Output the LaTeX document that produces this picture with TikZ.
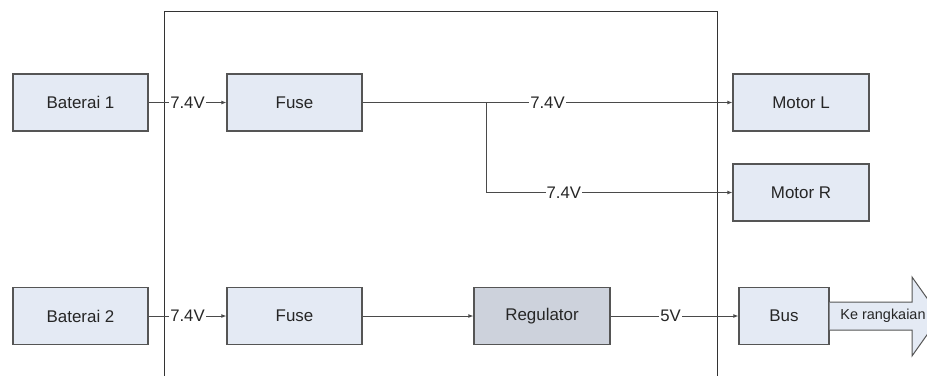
\documentclass[tikz,border=0pt]{standalone}
\usepackage{fontspec}
\setmainfont{Liberation Sans}
\usetikzlibrary{arrows.meta}
\definecolor{boxfill}{HTML}{E4EAF4}
\definecolor{regfill}{HTML}{CDD2DC}
\definecolor{edgec}{HTML}{555555}
\definecolor{wirec}{HTML}{4A4A4A}
\begin{document}
\begin{tikzpicture}[x=1bp,y=-1bp,
  blk/.style={draw=edgec, line width=1.3bp, fill=boxfill, minimum width=135bp, minimum height=57bp, inner sep=0pt, font=\fontsize{17}{20}\selectfont, text=black!85},
  wire/.style={draw=wirec, line width=0.9bp, -{Latex[length=5bp,width=4bp]}},
  lbl/.style={fill=white, inner sep=1bp, font=\fontsize{16.8}{19}\selectfont, text=black!85},
  frame/.style={draw=black!80, line width=0.9bp}]
\useasboundingbox (0,0) rectangle (927,375);
\clip (0,0) rectangle (927,375);
\fill[white] (0,0) rectangle (927,375);
% big frame
\draw[frame] (164,380) -- (164,11) -- (717,11) -- (717,380);
% boxes
\node[blk] (bat1) at (80.5,102.5) {Baterai 1};
\node[blk] (fuse1) at (294.5,102.5) {Fuse};
\node[blk, minimum width=136bp] (motL) at (801,102.5) {Motor L};
\node[blk, minimum width=136bp] (motR) at (801,192.5) {Motor R};
\node[blk] (bat2) at (80.5,316) {Baterai 2};
\node[blk] (fuse2) at (294.5,316) {Fuse};
\node[blk, fill=regfill, minimum width=136bp] (reg) at (542,316) {Regulator};
\node[blk, minimum width=90bp] (bus) at (784,316) {Bus};
% connectors
\coordinate (br) at (486,102.5);
\draw[wire] (bat1) -- node[lbl]{7.4V} (fuse1);
\draw[wire] (fuse1) -- node[lbl]{7.4V} (motL);
\draw[wire] (br) |- node[lbl, pos=0.658]{7.4V} (motR);
\draw[wire] (bat2) -- node[lbl]{7.4V} (fuse2);
\draw[wire] (fuse2) -- (reg);
\draw[wire] (reg) -- node[lbl, pos=0.47]{5V} (bus);
% output arrow
\draw[draw=edgec, line width=1bp, fill=boxfill, line join=miter]
  (bus.east |- 0,302) -- (912,302) -- (912,277) -- (940,316.5) -- (912,356) -- (912,330) -- (bus.east |- 0,330);
\node[font=\fontsize{14.5}{17}\selectfont, text=black!85, inner sep=0pt] (ke) at (883,316) {Ke rangkaian};
\end{tikzpicture}
\end{document}
